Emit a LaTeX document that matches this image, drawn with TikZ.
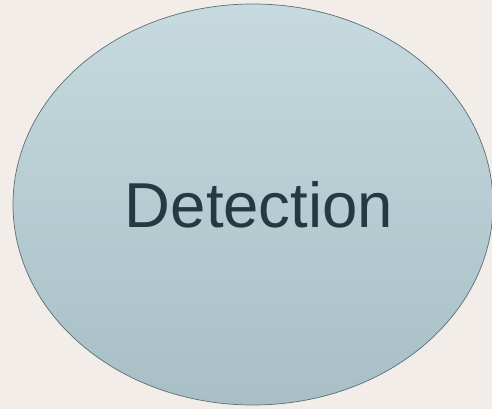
\documentclass[tikz,border=0pt]{standalone}
\usepackage{fontspec}
\setmainfont{Liberation Sans}
\usepackage{xcolor}
\usepackage{tikz}
\usetikzlibrary{positioning, shapes.geometric}
\definecolor{paper}{HTML}{f2ede9}
\definecolor{blobTop}{HTML}{c6dadf}
\definecolor{blobBot}{HTML}{a7bfc5}
\definecolor{blobB}{HTML}{5b6f73}
\definecolor{ink}{HTML}{243a41}

\begin{document}
\begin{tikzpicture}[x=1pt, y=1pt, blob/.style={ellipse, draw=blobB, line width=0.7pt, top color=blobTop, bottom color=blobBot, minimum width=480pt, minimum height=401pt, inner sep=0pt}, lbl/.style={font=\fontsize{63.5}{70}\selectfont, color=ink}]
\useasboundingbox (0,0) rectangle (492,409);
\fill[paper] (0,0) rectangle (492,409);
\clip (0,0) rectangle (492,409);
\node[blob] (det) at (253,204.5) {};
\node[lbl] (dettext) at (259,204.5) {Detection};
\end{tikzpicture}
\end{document}
